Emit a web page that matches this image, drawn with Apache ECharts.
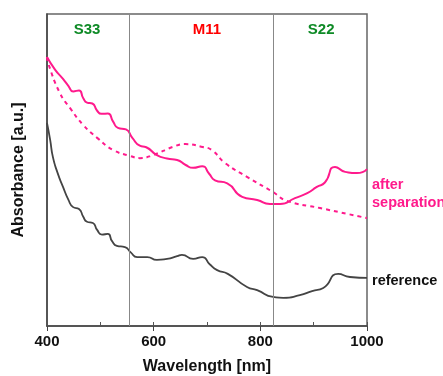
<!DOCTYPE html>
<html>
<head>
<meta charset="utf-8">
<script src="https://cdn.jsdelivr.net/npm/echarts@6/dist/echarts.min.js"></script>
<style>
  html, body { margin: 0; padding: 0; background: #fff; }
  #chart { width: 443px; height: 376px; }
</style>
</head>
<body>
<div id="chart"></div>
<script>
// Absorbance spectra, values (a.u., 0..1 on the plot height)
const afterSolid = [
  [400, 0.862], [415, 0.822], [430, 0.792], [440, 0.770], [449, 0.752], [460, 0.755],
  [468, 0.730], [475, 0.716], [485, 0.713], [494, 0.690], [502, 0.680], [514, 0.681],
  [524, 0.655], [533, 0.635], [548, 0.630], [560, 0.603], [574, 0.578], [586, 0.573],
  [606, 0.548], [625, 0.537], [644, 0.532], [660, 0.516], [674, 0.507], [691, 0.512],
  [704, 0.488], [715, 0.467], [738, 0.457], [766, 0.414], [794, 0.404], [818, 0.391],
  [837, 0.391], [865, 0.410], [888, 0.426], [906, 0.446], [921, 0.460], [940, 0.510],
  [959, 0.494], [981, 0.490], [1000, 0.503]
];
const afterDashed = [
  [400, 0.862], [402, 0.843], [424, 0.747], [443, 0.699], [468, 0.644], [494, 0.603],
  [524, 0.564], [556, 0.545], [574, 0.538], [599, 0.548], [636, 0.574], [659, 0.583],
  [692, 0.574], [709, 0.564], [734, 0.522], [775, 0.478], [824, 0.429], [850, 0.401],
  [912, 0.378], [1000, 0.346]
];
const reference = [
  [400, 0.651], [406, 0.596], [411, 0.542], [420, 0.490], [430, 0.446], [440, 0.405],
  [449, 0.381], [460, 0.375], [468, 0.350], [475, 0.334], [486, 0.330], [494, 0.308],
  [503, 0.293], [514, 0.295], [522, 0.272], [531, 0.257], [546, 0.253], [557, 0.236],
  [569, 0.221], [588, 0.221], [606, 0.212], [625, 0.215], [644, 0.224], [653, 0.228],
  [674, 0.215], [691, 0.221], [705, 0.198], [719, 0.179], [739, 0.167], [775, 0.125],
  [794, 0.115], [824, 0.093], [843, 0.090], [874, 0.099], [897, 0.112], [918, 0.122],
  [946, 0.167], [968, 0.157], [1000, 0.154]
];
const regionBounds = [555, 825];
const regionLabels = [
  { text: 'S33', at: 475, color: '#0e8a26' },
  { text: 'M11', at: 700, color: '#ff0000' },
  { text: 'S22', at: 914, color: '#0e8a26' }
];
const xTickLabels = [400, 600, 800, 1000];

const PINK = '#ff1a8c';
const FONT = 'Liberation Sans, Arial, sans-serif';

const chart = echarts.init(document.getElementById('chart'));

chart.setOption({
  animation: false,
  grid: {
    left: 47, right: 76, top: 14, bottom: 50, outerBoundsMode: 'none',
    show: true, borderColor: '#666', borderWidth: 1.5
  },
  xAxis: [
    {
      type: 'value', min: 400, max: 1000, interval: 200,
      name: 'Wavelength [nm]', nameLocation: 'center', nameGap: 33,
      nameTextStyle: { fontFamily: FONT, fontWeight: 'bold', fontSize: 16, color: '#111' },
      axisLine: { lineStyle: { color: '#444', width: 1.5 } },
      axisTick: { inside: false, length: 5, lineStyle: { color: '#444' } },
      splitLine: { show: false },
      axisLabel: {
        fontFamily: FONT, fontWeight: 'bold', fontSize: 15, color: '#111', margin: 8,
        formatter: v => xTickLabels.includes(v) ? String(v) : ''
      }
    },
    {
      // minor ticks pointing into the plot
      type: 'value', min: 400, max: 1000, interval: 100, position: 'bottom',
      axisLine: { show: false },
      axisTick: { inside: true, length: 4, lineStyle: { color: '#555' } },
      axisLabel: { show: false },
      splitLine: { show: false }
    }
  ],
  yAxis: {
    type: 'value', min: 0, max: 1,
    name: 'Absorbance [a.u.]', nameLocation: 'center', nameGap: 20,
    nameTextStyle: { fontFamily: FONT, fontWeight: 'bold', fontSize: 16, color: '#111' },
    axisLine: { show: true, lineStyle: { color: '#444', width: 1.5 } },
    axisTick: { show: false },
    axisLabel: { show: false },
    splitLine: { show: false }
  },
  series: [
    {
      name: 'reference', type: 'line', data: reference, smooth: 0.6, symbol: 'none',
      lineStyle: { color: '#444', width: 1.8 },
      markLine: {
        silent: true, symbol: 'none', label: { show: false },
        lineStyle: { color: '#888', width: 1, type: 'solid' },
        data: regionBounds.map(x => ({ xAxis: x }))
      }
    },
    {
      name: 'after separation', type: 'line', data: afterSolid, smooth: 0.6, symbol: 'none',
      lineStyle: { color: PINK, width: 2 }
    },
    {
      name: 'after separation (dashed)', type: 'line', data: afterDashed, smooth: 0.5, symbol: 'none',
      lineStyle: { color: PINK, width: 2, type: [4, 4] }
    },
    {
      // region labels at the top of the plot
      type: 'scatter', symbol: 'circle', symbolSize: 1, silent: true,
      itemStyle: { color: '#fff', opacity: 1 },
      data: regionLabels.map(r => ({
        value: [r.at, 0.948],
        label: {
          show: true, position: 'inside', formatter: r.text, textBorderWidth: 0,
          fontFamily: FONT, fontWeight: 'bold', fontSize: 15, color: r.color
        }
      }))
    }
  ],
  graphic: [
    {
      type: 'text', left: 372, top: 176,
      style: { text: 'after\nseparation', fill: PINK, font: 'bold 14.5px ' + FONT, lineHeight: 18 }
    },
    {
      type: 'text', left: 372, top: 273,
      style: { text: 'reference', fill: '#111', font: 'bold 14.5px ' + FONT }
    }
  ]
});
</script>
</body>
</html>
